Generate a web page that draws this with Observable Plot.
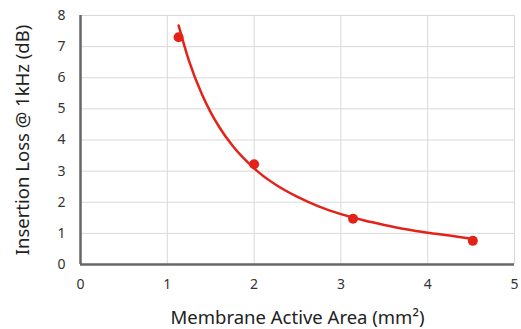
<!DOCTYPE html>
<html>
<head>
<meta charset="utf-8">
<script src="https://cdn.jsdelivr.net/npm/d3@7"></script>
<script src="https://cdn.jsdelivr.net/npm/@observablehq/plot@0.6"></script>
<style>
  html, body { margin: 0; padding: 0; background: #fff; }
  svg { display: block; }
</style>
</head>
<body>
<div id="chart"></div>
<script>
// Measured points
const areas = [1.13, 2.0, 3.14, 4.52];
const losses = [7.3, 3.22, 1.47, 0.76];

// Trend curve
const curveX = [1.13, 1.25, 1.4, 1.5, 1.6, 1.75, 2.0, 2.25, 2.5, 2.75, 3.0, 3.25, 3.5, 3.75, 4.0, 4.25, 4.52];
const curveY = [7.68, 6.54, 5.46, 4.89, 4.41, 3.82, 3.09, 2.56, 2.17, 1.86, 1.62, 1.43, 1.27, 1.13, 1.02, 0.93, 0.82];

const xTicks = [0, 1, 2, 3, 4, 5];
const yTicks = [0, 1, 2, 3, 4, 5, 6, 7, 8];
const xTitle = "Membrane Active Area (mm²)";
const yTitle = "Insertion Loss @ 1kHz (dB)";

const points = areas.map((a, i) => ({x: a, y: losses[i]}));
const curve = curveX.map((a, i) => ({x: a, y: curveY[i]}));

const red = "#e3231a";

const chart = Plot.plot({
  width: 521,
  height: 329,
  marginLeft: 80,
  marginRight: 7,
  marginTop: 15,
  marginBottom: 65,
  style: {fontFamily: "'Noto Sans', sans-serif", fontSize: "14px", color: "#333", background: "#fff"},
  x: {domain: [0, 5], ticks: xTicks},
  y: {domain: [0, 8], ticks: yTicks},
  marks: [
    Plot.gridX(xTicks, {stroke: "#d9d9d9", strokeOpacity: 1, strokeWidth: 1}),
    Plot.gridY(yTicks, {stroke: "#d9d9d9", strokeOpacity: 1, strokeWidth: 1}),
    Plot.axisX(xTicks, {tickSize: 0, tickPadding: 15, label: null, fontSize: 14, fill: "#333"}),
    Plot.axisY(yTicks, {tickSize: 0, tickPadding: 15, label: null, fontSize: 14, fill: "#333"}),
    Plot.ruleX([0], {stroke: "#666", strokeWidth: 2.5}),
    Plot.ruleY([0], {stroke: "#666", strokeWidth: 2.5}),
    Plot.line(curve, {x: "x", y: "y", stroke: red, strokeWidth: 2.5, curve: "monotone-x"}),
    Plot.dot(points, {x: "x", y: "y", r: 5, fill: red, stroke: "none"}),
    Plot.text([xTitle], {frameAnchor: "bottom", dy: 54, lineAnchor: "middle", textAnchor: "middle", fontSize: 18.5, fill: "#222"}),
    Plot.text([yTitle], {frameAnchor: "left", dx: -57, rotate: -90, lineAnchor: "middle", textAnchor: "middle", fontSize: 18.5, fill: "#222"})
  ]
});
document.getElementById("chart").appendChild(chart);
</script>
</body>
</html>
